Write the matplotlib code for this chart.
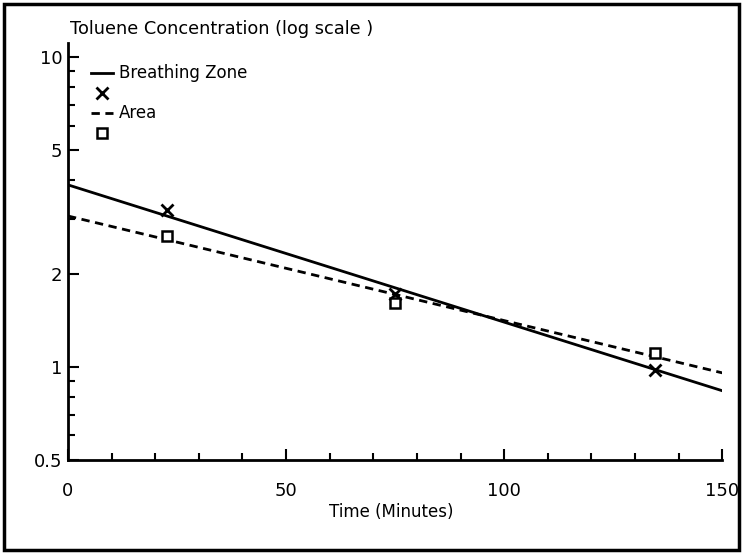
import matplotlib.pyplot as plt
from matplotlib.lines import Line2D
from matplotlib.patches import Rectangle
from matplotlib.ticker import FixedLocator, NullFormatter, LogLocator

plt.rcParams['font.family'] = ['DejaVu Sans']

# measured points
t_points = [22.7, 75, 134.6]
bz_points = [3.21, 1.72, 0.98]
area_points = [2.65, 1.61, 1.11]

# fitted lines (end points)
t_fit = [0, 150]
bz_fit = [3.87, 0.837]
area_fit = [3.07, 0.956]

y_ticks = [0.5, 1, 2, 5, 10]
y_labels = ['0.5', '1', '2', '5', '10']
x_ticks = [0, 50, 100, 150]

fig = plt.figure(figsize=(7.43, 5.54), dpi=100)
ax = fig.add_axes([0.0915, 0.1697, 0.8805, 0.7523])

ax.plot(t_fit, bz_fit, color='black', linewidth=2)
ax.plot(t_fit, area_fit, color='black', linewidth=2, linestyle=(0, (3, 2)))
ax.plot(t_points, bz_points, linestyle='none', marker='x', color='black',
        markersize=8, markeredgewidth=2)
ax.plot(t_points, area_points, linestyle='none', marker='s', color='black',
        markerfacecolor='white', markersize=7, markeredgewidth=1.8)

ax.set_yscale('log')
ax.set_xlim(0, 150)
ax.set_ylim(0.5, 11.1)
ax.yaxis.set_major_locator(FixedLocator(y_ticks))
ax.set_yticklabels(y_labels)
ax.yaxis.set_minor_locator(LogLocator(base=10, subs=range(2, 10)))
ax.yaxis.set_minor_formatter(NullFormatter())
ax.set_xticks(x_ticks)
ax.xaxis.set_minor_locator(FixedLocator(range(0, 151, 10)))

for side in ['top', 'right']:
    ax.spines[side].set_visible(False)
for side in ['left', 'bottom']:
    ax.spines[side].set_linewidth(2)
ax.tick_params(which='both', direction='in', width=1.5, labelsize=13)
ax.tick_params(which='major', length=8)
ax.tick_params(axis='y', which='major', pad=4)
ax.tick_params(axis='x', which='major', pad=16)
ax.tick_params(which='minor', length=5)

handles = [
    Line2D([], [], color='black', linewidth=2),
    Line2D([], [], color='black', linestyle='none', marker='x', markersize=8, markeredgewidth=2),
    Line2D([], [], color='black', linewidth=2, linestyle=(0, (3, 2))),
    Line2D([], [], color='black', linestyle='none', marker='s', markerfacecolor='white',
           markersize=7, markeredgewidth=1.8),
]
ax.legend(handles, ['Breathing Zone', '', 'Area', ''], loc='upper left',
          bbox_to_anchor=(0.012, 0.985), frameon=False, fontsize=12,
          handlelength=1.3, handletextpad=0.4, labelspacing=0.12)

fig.text(0.094, 0.948, 'Toluene Concentration (log scale )', fontsize=12.8, ha='left', va='center')
fig.text(0.527, 0.075, 'Time (Minutes)', fontsize=12, ha='center', va='center')

fig.patches.append(Rectangle((0.006, 0.008), 0.988, 0.984, transform=fig.transFigure,
                             fill=False, edgecolor='black', linewidth=2.5))

fig.savefig('out.png', dpi=100)
